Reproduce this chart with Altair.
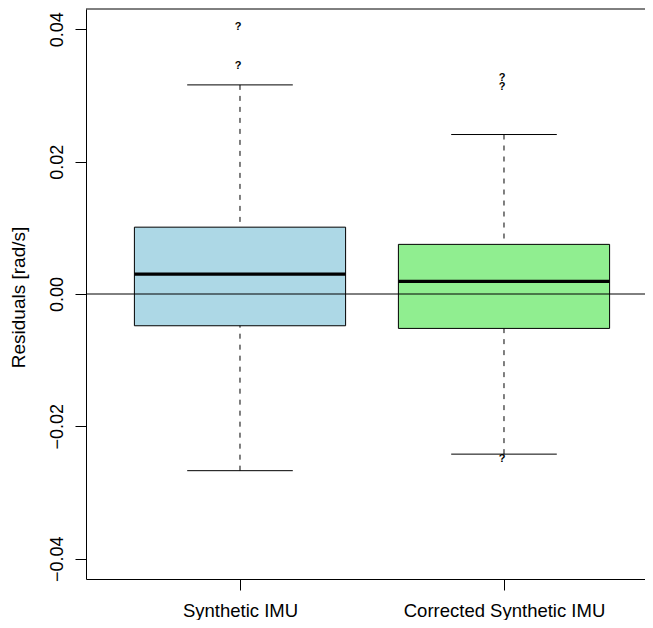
import altair as alt
import pandas as pd

# ---- data ----
groups = ["Synthetic IMU", "Corrected Synthetic IMU"]
positions = [1, 2]
whisker_low = [-0.0267, -0.0242]
q1 = [-0.0048, -0.0052]
median = [0.0030, 0.0019]
q3 = [0.0101, 0.0075]
whisker_high = [0.0316, 0.0241]

outlier_group = ["Synthetic IMU", "Synthetic IMU",
                 "Corrected Synthetic IMU", "Corrected Synthetic IMU", "Corrected Synthetic IMU"]
outlier_value = [0.0404, 0.0345, 0.0327, 0.0313, -0.0249]

y_ticks = [-0.04, -0.02, 0.0, 0.02, 0.04]
fill_colors = ["#ADD8E6", "#90EE90"]

BOX_HALF = 0.4     # boxwex 0.8
CAP_HALF = 0.2     # staplewex 0.5
X_DOMAIN = [0.41667, 2.53409]
Y_DOMAIN = [-0.04307, 0.04307]
FONT = "Liberation Sans"

df = pd.DataFrame({
    "group": groups, "pos": positions, "lo": whisker_low, "q1": q1,
    "med": median, "q3": q3, "hi": whisker_high,
})
df["left"] = df["pos"] - BOX_HALF
df["right"] = df["pos"] + BOX_HALF
df["cap_l"] = df["pos"] - CAP_HALF
df["cap_r"] = df["pos"] + CAP_HALF

pos_map = dict(zip(groups, positions))
out_df = pd.DataFrame({"group": outlier_group, "value": outlier_value})
out_df["pos"] = out_df["group"].map(pos_map)

x_scale = alt.Scale(domain=X_DOMAIN, nice=False, zero=False)
y_scale = alt.Scale(domain=Y_DOMAIN, nice=False, zero=False)

label_expr = f"datum.value == 1 ? '{groups[0]}' : '{groups[1]}'"
x_axis = alt.Axis(values=positions, labelExpr=label_expr, title=None, tickSize=11,
                  labelPadding=26, labelFontSize=18.5, labelBaseline="alphabetic",
                  labelFlush=False, labelOverlap=False, labelLimit=0, grid=False)
y_axis = alt.Axis(values=y_ticks, format=".2f", title="Residuals [rad/s]", tickSize=11,
                  labelAngle=270, labelAlign="center", labelBaseline="alphabetic",
                  labelPadding=13, labelFontSize=18, labelFlush=False, labelOverlap=False,
                  labelLimit=0,
                  titleFontSize=19, titleFontWeight="normal", titleAngle=270,
                  titleAlign="center", titleBaseline="alphabetic", titleX=-62, titleY=288,
                  titleLimit=0, grid=False)

X = lambda f: alt.X(f"{f}:Q", scale=x_scale, axis=x_axis)
Y = lambda f: alt.Y(f"{f}:Q", scale=y_scale, axis=y_axis)

base = alt.Chart(df)

boxes = base.mark_rect(stroke="black", strokeWidth=1).encode(
    x=X("left"), x2="right", y=Y("q1"), y2="q3",
    fill=alt.Fill("group:N", scale=alt.Scale(domain=groups, range=fill_colors), legend=None),
)
whisk_up = base.mark_rule(color="black", strokeWidth=1, strokeDash=[5, 6]).encode(
    x=X("pos"), y=Y("hi"), y2="q3")
whisk_dn = base.mark_rule(color="black", strokeWidth=1, strokeDash=[5, 6]).encode(
    x=X("pos"), y=Y("lo"), y2="q1")
cap_up = base.mark_rule(color="black", strokeWidth=1).encode(
    x=X("cap_l"), x2="cap_r", y=Y("hi"))
cap_dn = base.mark_rule(color="black", strokeWidth=1).encode(
    x=X("cap_l"), x2="cap_r", y=Y("lo"))
med = base.mark_rule(color="black", strokeWidth=3.3).encode(
    x=X("left"), x2="right", y=Y("med"))

zero = alt.Chart(pd.DataFrame({"z": [0.0]})).mark_rule(color="black", strokeWidth=1).encode(
    y=Y("z"))
top = alt.Chart(pd.DataFrame({"t": [Y_DOMAIN[1]]})).mark_rule(color="black", strokeWidth=1).encode(
    y=Y("t"))

outliers = alt.Chart(out_df).mark_text(
    text="?", font=FONT, fontWeight="bold", fontSize=11, baseline="middle",
    align="center", dx=-2, color="black",
).encode(x=X("pos"), y=Y("value"))

chart = alt.layer(boxes, whisk_up, whisk_dn, cap_up, cap_dn, med, zero, top, outliers).properties(
    width=559, height=570,
    autosize=alt.AutoSizeParams(type="none"),
    padding={"left": 78, "top": 1, "right": 0, "bottom": 41},
    background="white",
).configure_axis(
    labelFont=FONT, titleFont=FONT, labelColor="black", titleColor="black",
    tickColor="black", domainColor="black", tickWidth=1, domainWidth=1,
).configure_view(stroke=None)

chart.save("out.html", embed_options={"renderer": "svg", "actions": False})
